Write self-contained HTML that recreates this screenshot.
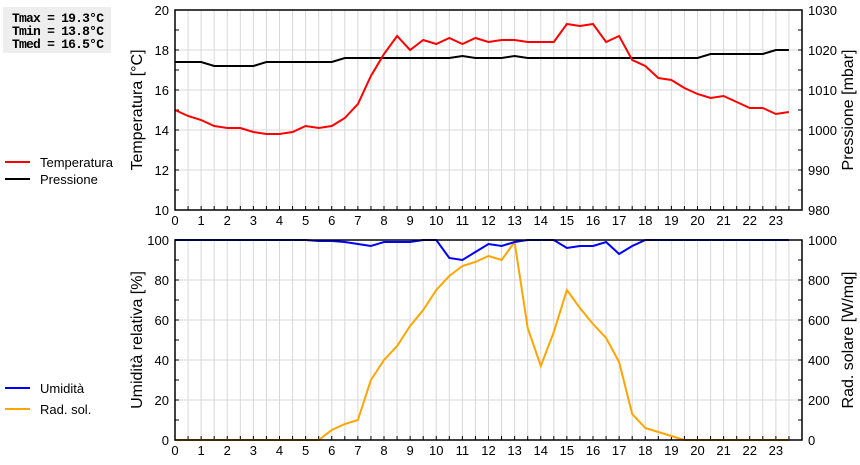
<!DOCTYPE html>
<html><head><meta charset="utf-8"><style>
body{margin:0;background:#fff;width:860px;height:460px;overflow:hidden;font-family:"Liberation Sans",sans-serif}
</style></head><body>
<svg id="c" width="860" height="460" xmlns="http://www.w3.org/2000/svg">
<rect x="3" y="7" width="108" height="46" fill="#eeeeee"/>
<g font-family="Liberation Mono, monospace" font-weight="bold" font-size="13" fill="#000">
<text x="12" y="22" textLength="92">Tmax = 19.3°C</text>
<text x="12" y="35" textLength="92">Tmin = 13.8°C</text>
<text x="12" y="48" textLength="92">Tmed = 16.5°C</text>
</g>
</svg>
<script>
const hours=[];for(let i=0;i<48;i++)hours.push(i/2);
const temperature=[15.0,14.7,14.5,14.2,14.1,14.1,13.9,13.8,13.8,13.9,14.2,14.1,14.2,14.6,15.3,16.7,17.8,18.7,18.0,18.5,18.3,18.6,18.3,18.6,18.4,18.5,18.5,18.4,18.4,18.4,19.3,19.2,19.3,18.4,18.7,17.5,17.2,16.6,16.5,16.1,15.8,15.6,15.7,15.4,15.1,15.1,14.8,14.9];
const pressure=[1017,1017,1017,1016,1016,1016,1016,1017,1017,1017,1017,1017,1017,1018,1018,1018,1018,1018,1018,1018,1018,1018,1018.5,1018,1018,1018,1018.5,1018,1018,1018,1018,1018,1018,1018,1018,1018,1018,1018,1018,1018,1018,1019,1019,1019,1019,1019,1020,1020];
const humidity=[100,100,100,100,100,100,100,100,100,100,100,99.5,99.5,99,98,97,99,99,99,100,100,91,90,94,98,97,99,100,100,100,96,97,97,99,93,97,100,100,100,100,100,100,100,100,100,100,100,100];
const radiation=[0,0,0,0,0,0,0,0,0,0,0,0,50,80,100,300,400,470,570,650,750,820,870,890,920,900,990,560,370,540,750,660,580,510,390,130,60,40,20,0,0,0,0,0,0,0,0,0];
const tempTicks=[10,12,14,16,18,20];
const presTicks=[980,990,1000,1010,1020,1030];
const humTicks=[0,20,40,60,80,100];
const radTicks=[0,200,400,600,800,1000];
const hourTicks=[0,1,2,3,4,5,6,7,8,9,10,11,12,13,14,15,16,17,18,19,20,21,22,23];

const NS='http://www.w3.org/2000/svg';
const svg=document.getElementById('c');
const L=175,R=802;
const xs=h=>L+(R-L)*h/24;
function mk(t,a,p){const e=document.createElementNS(NS,t);for(const k in a)e.setAttribute(k,a[k]);(p||svg).appendChild(e);return e;}
function panel(top,bot,lmin,lmax,lt,rmin,rmax,rt,ltitle,rtitle,name){
  const g=mk('g',{});
  
  
  const yl=v=>bot-(bot-top)*(v-lmin)/(lmax-lmin);
  const yr=v=>bot-(bot-top)*(v-rmin)/(rmax-rmin);
  for(let i=1;i<48;i++){mk('line',{x1:xs(i/2),x2:xs(i/2),y1:top,y2:bot,stroke:'#d8d8d8','stroke-width':1},g);}
  lt.forEach(v=>{mk('line',{x1:L,x2:R,y1:yl(v),y2:yl(v),stroke:'#d8d8d8'},g);});
  for(let i=1;i<48;i++){mk('line',{x1:xs(i/2),x2:xs(i/2),y1:bot,y2:bot-4,stroke:'#000'},g);}
  const step=lt[1]-lt[0];
  for(let v=lmin;v<=lmax;v+=step/2){mk('line',{x1:L,x2:L+4,y1:yl(v),y2:yl(v),stroke:'#000'},g);}
  const rs=rt[1]-rt[0];
  for(let v=rmin;v<=rmax;v+=rs/2){mk('line',{x1:R,x2:R-4,y1:yr(v),y2:yr(v),stroke:'#000'},g);}
  lt.forEach(v=>{const t=mk('text',{x:L-6,y:yl(v)+5,'text-anchor':'end','font-size':13,fill:'#000'},g);t.textContent=v;});
  rt.forEach(v=>{const t=mk('text',{x:R+6,y:yr(v)+5,'text-anchor':'start','font-size':13,fill:'#000'},g);t.textContent=v;});
  hourTicks.forEach(h=>{const t=mk('text',{x:xs(h),y:bot+15,'text-anchor':'middle','font-size':13,fill:'#000'},g);t.textContent=h;});
  const cy=(top+bot)/2;
  const t1=mk('text',{x:0,y:0,transform:`translate(142,${cy}) rotate(-90)`,'text-anchor':'middle','font-size':16,fill:'#000'},g);t1.textContent=ltitle;
  
  
  const t2=mk('text',{x:0,y:0,transform:`translate(853,${cy}) rotate(-90)`,'text-anchor':'middle','font-size':16,fill:'#000'},g);t2.textContent=rtitle;
  
  
  return {g,yl,yr,top,bot};
}
function line(p,vals,yf,color,name){
  const d=vals.map((v,i)=>(i?'L':'M')+xs(hours[i]).toFixed(1)+','+yf(v).toFixed(1)).join('');
  const e=mk('path',{d,fill:'none',stroke:color,'stroke-width':2},p.g);
  
  
}
function frame(p){mk('rect',{x:L,y:p.top,width:R-L,height:p.bot-p.top,fill:'none',stroke:'#000','stroke-width':1.5},p.g);}
const p1=panel(10,210,10,20,tempTicks,980,1030,presTicks,'Temperatura [°C]','Pressione [mbar]','top-panel');
line(p1,pressure,p1.yr,'#000','pressure-line');
line(p1,temperature,p1.yl,'#ff0000','temperature-line');
frame(p1);
const p2=panel(240,440,0,100,humTicks,0,1000,radTicks,'Umidità relativa [%]','Rad. solare [W/mq]','bottom-panel');
line(p2,radiation,p2.yr,'#ffa500','radiation-line');
line(p2,humidity,p2.yl,'#0000ff','humidity-line');
frame(p2);
function legend(y,color,label,name){
  const g=mk('g',{});
  
  
  mk('line',{x1:5,x2:30,y1:y,y2:y,stroke:color,'stroke-width':2},g);
  const t=mk('text',{x:40,y:y+5,'font-size':13,fill:'#000'},g);t.textContent=label;
}
legend(162,'#ff0000','Temperatura','legend-temperatura');
legend(179,'#000','Pressione','legend-pressione');
legend(388,'#0000ff','Umidità','legend-umidita');
legend(409,'#ffa500','Rad. sol.','legend-rad-sol');
</script>
</body></html>
